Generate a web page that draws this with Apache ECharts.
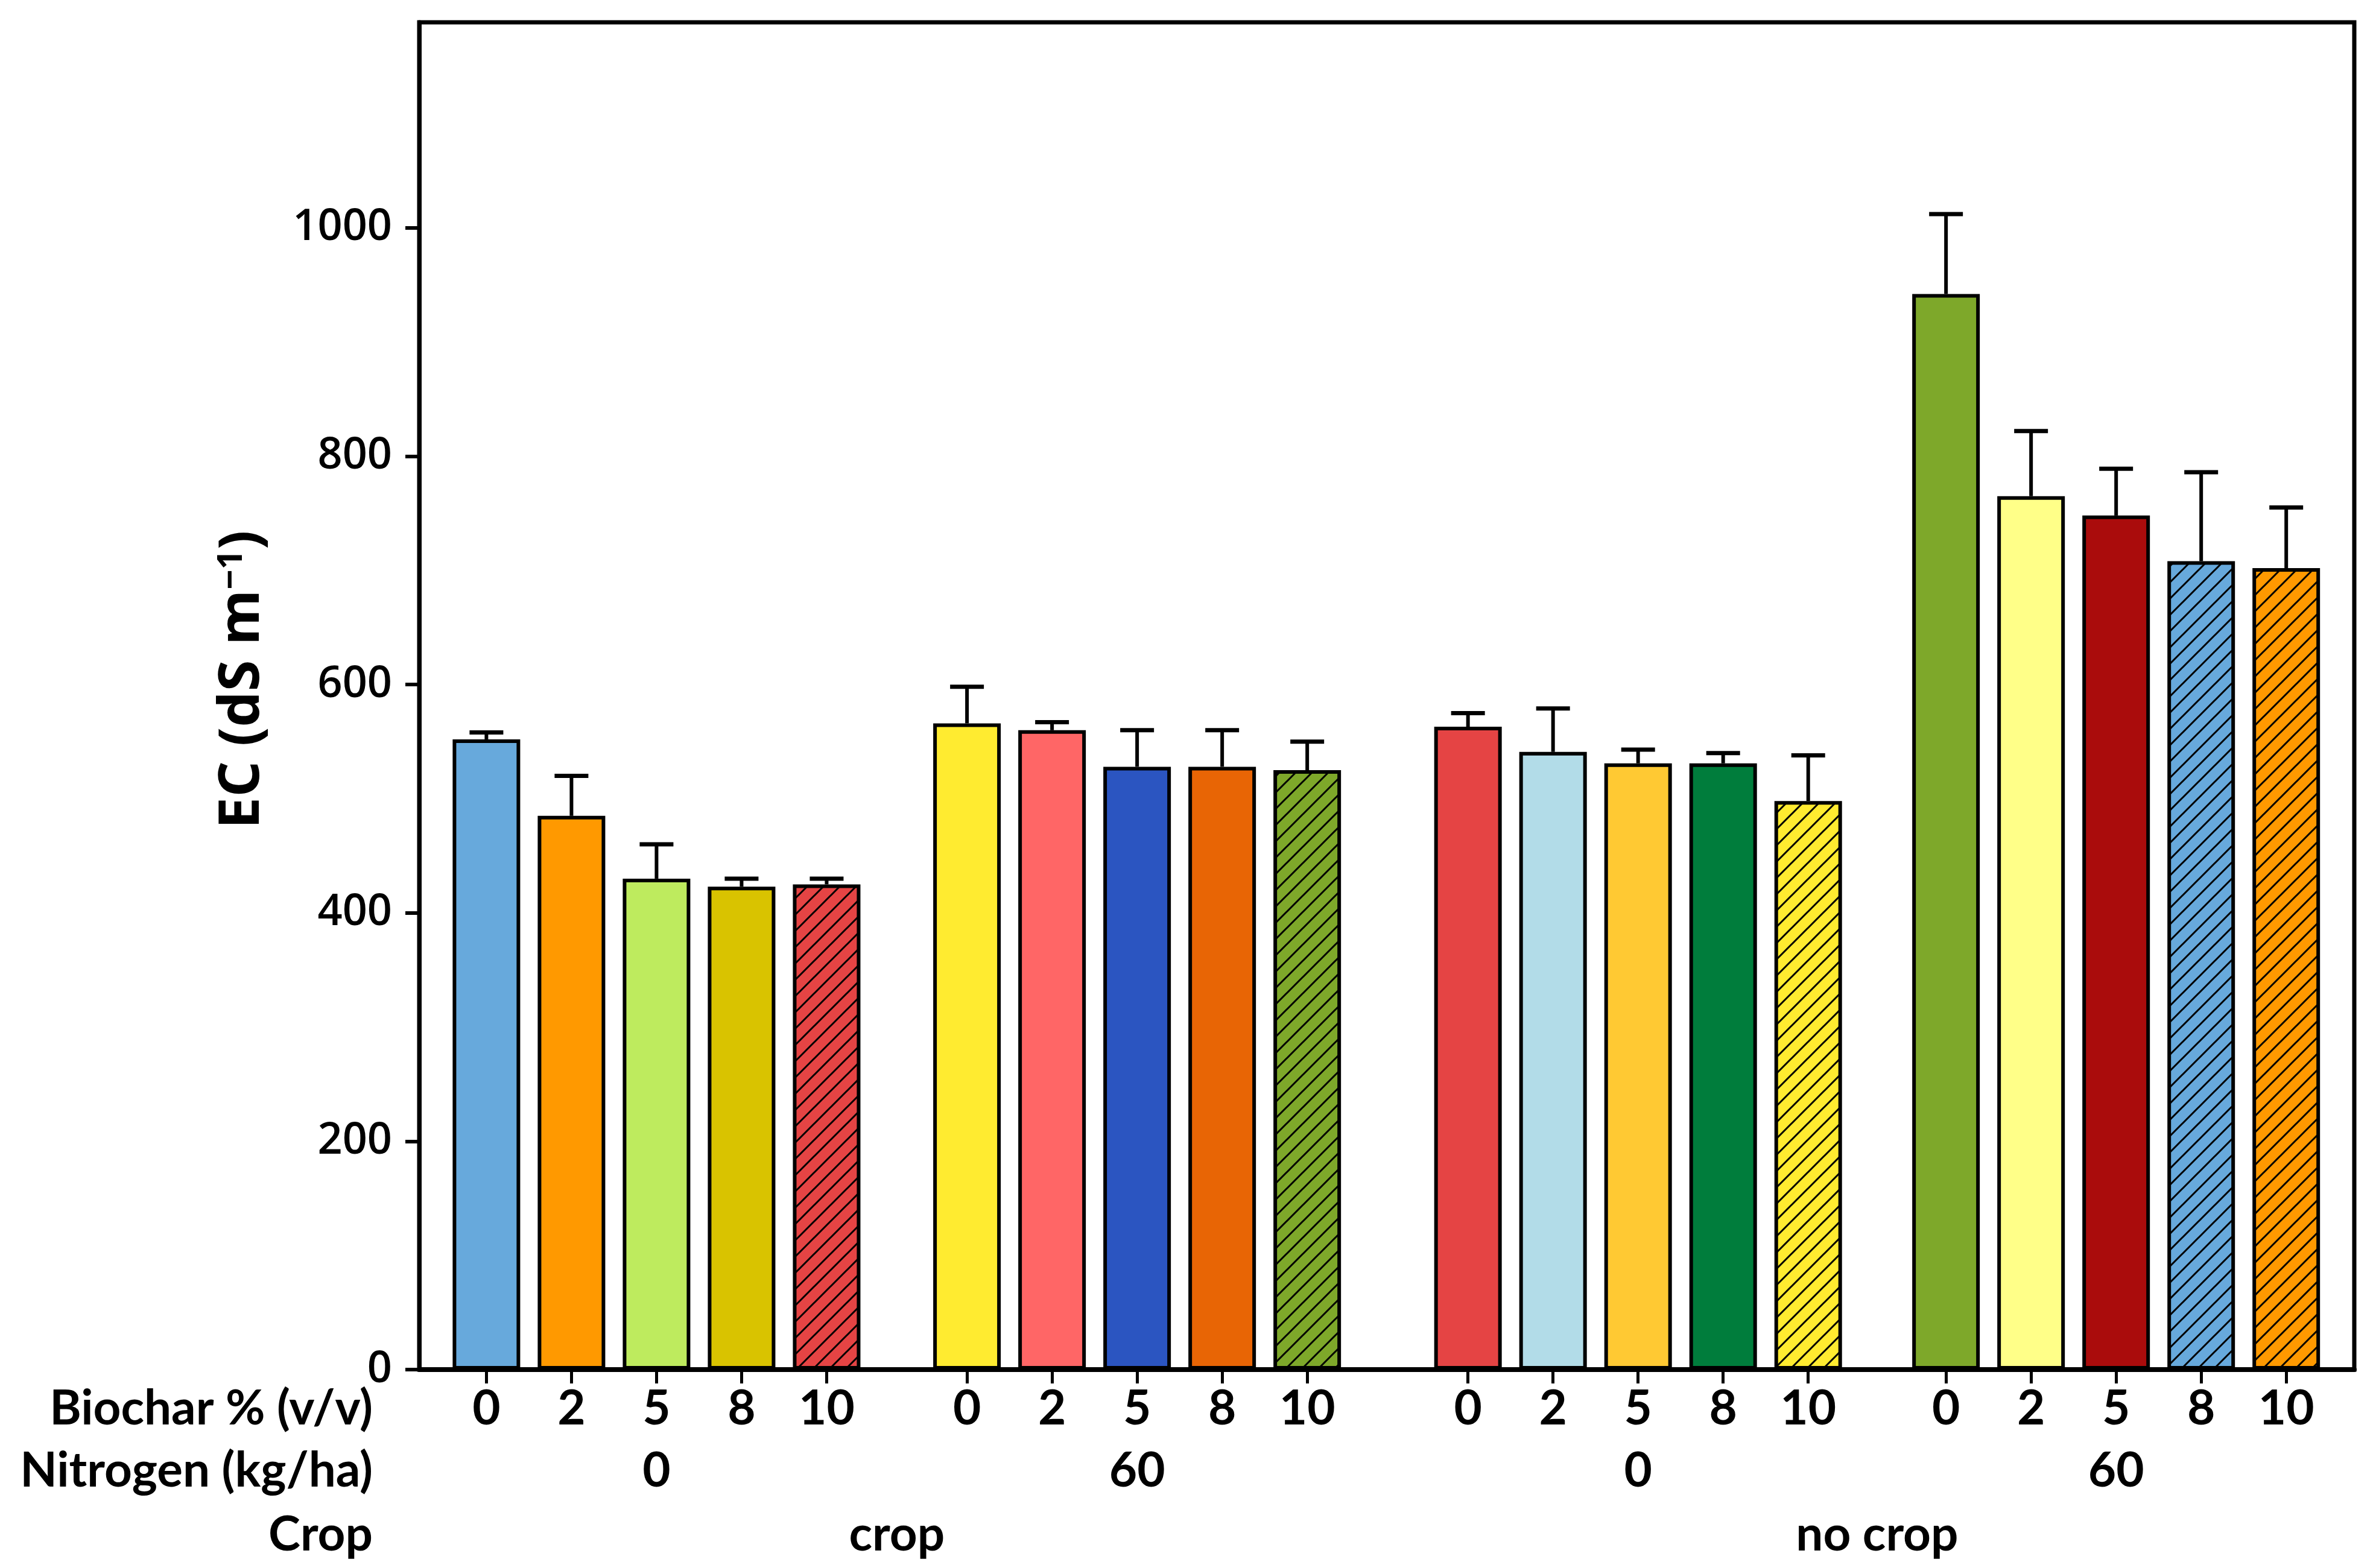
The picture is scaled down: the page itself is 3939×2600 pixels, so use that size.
<!DOCTYPE html>
<html>
<head>
<meta charset="utf-8">
<script src="https://cdn.jsdelivr.net/npm/echarts@6.0.0/dist/echarts.min.js"></script>
<style>
html,body{margin:0;padding:0;background:#fff}
#main{width:3939px;height:2600px}
</style>
</head>
<body>
<div id="main"></div>
<script>
// data
var biochar = ['0', '2', '5', '8', '10'];
var nitrogen = ['0', '60', '0', '60'];
var crops = ['crop', 'no crop'];
var ecMean = [552, 485, 430, 423, 425, 566, 560, 528, 528, 525, 563, 541, 531, 531, 498, 942, 765, 748, 708, 702];
var ecErr = [6, 35, 30, 7, 5, 32, 7, 32, 32, 25, 12, 38, 12, 9, 40, 70, 57, 41, 78, 53];
var yTicks = [0, 200, 400, 600, 800, 1000];

// styling
var barColors = ['#67a9dc', '#ff9900', '#beeb5e', '#d9c300', '#e54444',
                 '#ffeb30', '#ff6666', '#2b55c1', '#e86505', '#7ea82a',
                 '#e54444', '#b2dce8', '#ffc933', '#007d3c', '#ffeb30',
                 '#7ea82a', '#ffff88', '#aa0c0c', '#67a9dc', '#ff9900'];
var hatched = [4, 9, 14, 18, 19];
var groupStart = [0, 5.65, 11.54, 17.16];

var pos = [];
for (var g = 0; g < 4; g++) {
    for (var j = 0; j < 5; j++) pos.push(groupStart[g] + j);
}
var nitroPos = groupStart.map(function(s) { return s + 2; });
var cropPos = [(groupStart[0] + groupStart[1]) / 2 + 2, (groupStart[2] + groupStart[3]) / 2 + 2];

function hatch(color) {
    var s = 27;
    var c = document.createElement('canvas');
    c.width = s; c.height = s;
    var ctx = c.getContext('2d');
    ctx.fillStyle = color;
    ctx.fillRect(0, 0, s, s);
    ctx.strokeStyle = '#000';
    ctx.lineWidth = 3;
    ctx.beginPath();
    ctx.moveTo(-2, s + 2); ctx.lineTo(s + 2, -2);
    ctx.moveTo(-4, 4); ctx.lineTo(4, -4);
    ctx.moveTo(s - 4, s + 4); ctx.lineTo(s + 4, s - 4);
    ctx.stroke();
    return { image: c, repeat: 'repeat' };
}

function nearest(list, v) {
    var k = 0;
    for (var i = 1; i < list.length; i++) {
        if (Math.abs(list[i] - v) < Math.abs(list[k] - v)) k = i;
    }
    return k;
}

var barData = [], errData = [];
for (var i = 0; i < ecMean.length; i++) {
    barData.push({
        value: [pos[i], ecMean[i]],
        itemStyle: { color: hatched.indexOf(i) >= 0 ? hatch(barColors[i]) : barColors[i] }
    });
    errData.push([pos[i], ecMean[i], ecErr[i]]);
}

var lblFont = 'Lato';
var lblSize = 80;
var xMin = -0.79, xMax = 21.96;

var chart = echarts.init(document.getElementById('main'));
var option = {
    animation: false,
    backgroundColor: '#fff',
    grid: {
        left: 695, right: 36, top: 37, bottom: 329,
        show: true, borderColor: '#000', borderWidth: 7,
        backgroundColor: 'transparent',
        outerBoundsMode: 'none'
    },
    xAxis: [{
        type: 'value', min: xMin, max: xMax, position: 'bottom',
        splitLine: { show: false },
        axisLine: { show: true, onZero: false, lineStyle: { color: '#000', width: 8 } },
        axisTick: { show: true, customValues: pos, length: 23, lineStyle: { color: '#000', width: 5 } },
        axisLabel: {
            customValues: pos, margin: 65, verticalAlign: 'middle',
            fontFamily: lblFont, fontWeight: 'bold', fontSize: lblSize, color: '#000',
            formatter: function(v) { return biochar[nearest(pos, v) % 5]; }
        }
    }, {
        type: 'value', min: xMin, max: xMax, position: 'bottom', offset: 168,
        splitLine: { show: false }, axisLine: { show: false, onZero: false }, axisTick: { show: false },
        axisLabel: {
            customValues: nitroPos, margin: 0, verticalAlign: 'middle',
            fontFamily: lblFont, fontWeight: 'bold', fontSize: lblSize, color: '#000',
            formatter: function(v) { return nitrogen[nearest(nitroPos, v)]; }
        }
    }, {
        type: 'value', min: xMin, max: xMax, position: 'bottom', offset: 274,
        splitLine: { show: false }, axisLine: { show: false, onZero: false }, axisTick: { show: false },
        axisLabel: {
            customValues: cropPos, margin: 0, verticalAlign: 'middle',
            fontFamily: lblFont, fontWeight: 'bold', fontSize: lblSize, color: '#000',
            formatter: function(v) { return crops[nearest(cropPos, v)]; }
        }
    }],
    yAxis: {
        type: 'value', min: 0, max: 1180, interval: 200,
        splitLine: { show: false },
        axisLine: { show: true, onZero: false, lineStyle: { color: '#000', width: 7 } },
        axisTick: { show: true, customValues: yTicks, length: 23, lineStyle: { color: '#000', width: 6 } },
        axisLabel: {
            customValues: yTicks, margin: 45,
            fontFamily: 'Open Sans', fontWeight: 600, fontSize: 72, color: '#000',
            formatter: function(v) { return String(v); }
        }
    },
    graphic: [{
        type: 'text', x: 402, y: 1127, rotation: Math.PI / 2,
        style: {
            text: '{a|EC (dS m}{s|\u22121}{a|)}',
            align: 'center', verticalAlign: 'middle',
            rich: {
                a: { fontFamily: 'Open Sans', fontWeight: 'bold', fontSize: 94, fill: '#000' },
                s: { fontFamily: 'Open Sans', fontWeight: 'bold', fontSize: 58, fill: '#000', verticalAlign: 'top' }
            }
        }
    }, {
        type: 'text', x: 618, y: 2336,
        style: { text: 'Biochar % (v/v)', align: 'right', verticalAlign: 'middle',
                 fontFamily: lblFont, fontWeight: 'bold', fontSize: lblSize, fill: '#000' }
    }, {
        type: 'text', x: 618, y: 2439,
        style: { text: 'Nitrogen (kg/ha)', align: 'right', verticalAlign: 'middle',
                 fontFamily: lblFont, fontWeight: 'bold', fontSize: lblSize, fill: '#000' }
    }, {
        type: 'text', x: 618, y: 2545,
        style: { text: 'Crop', align: 'right', verticalAlign: 'middle',
                 fontFamily: lblFont, fontWeight: 'bold', fontSize: lblSize, fill: '#000' }
    }],
    series: [{
        type: 'bar',
        xAxisIndex: 0,
        barWidth: 112,
        data: barData,
        itemStyle: { borderColor: '#000', borderWidth: 6 },
        z: 2
    }, {
        type: 'custom',
        xAxisIndex: 0,
        data: errData,
        encode: { x: 0, y: 1 },
        z: 3,
        renderItem: function(params, api) {
            var base = api.coord([api.value(0), api.value(1)]);
            var top = api.coord([api.value(0), api.value(1) + api.value(2)]);
            return {
                type: 'group',
                children: [{
                    type: 'line',
                    shape: { x1: base[0], y1: base[1], x2: top[0], y2: top[1] },
                    style: { stroke: '#000', lineWidth: 6 }
                }, {
                    type: 'line',
                    shape: { x1: top[0] - 28, y1: top[1], x2: top[0] + 28, y2: top[1] },
                    style: { stroke: '#000', lineWidth: 7 }
                }]
            };
        }
    }]
};
chart.setOption(option);
</script>
</body>
</html>
